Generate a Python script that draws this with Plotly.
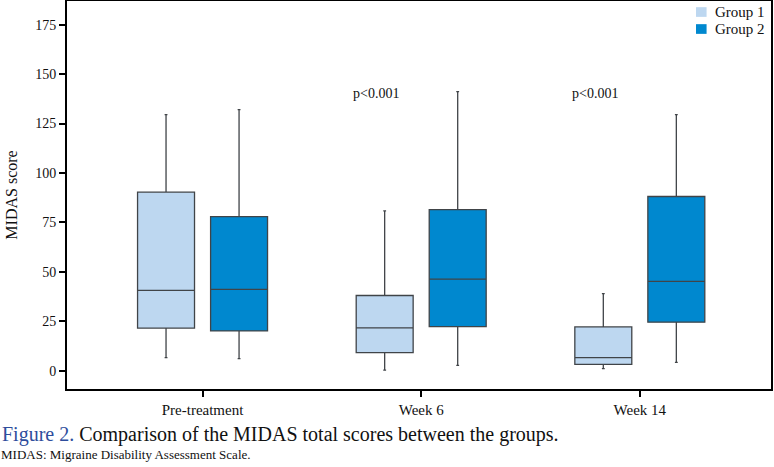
import plotly.graph_objects as go

categories = ["Pre-treatment", "Week 6", "Week 14"]
groups = ["Group 1", "Group 2"]

g1_lower = [6.6, 0.2, 1.0]
g1_q1 = [21.5, 9.1, 3.2]
g1_median = [40.6, 21.6, 6.6]
g1_q3 = [90.3, 38.0, 22.1]
g1_upper = [129.5, 80.8, 39.0]

g2_lower = [6.1, 2.7, 4.2]
g2_q1 = [20.1, 22.3, 24.5]
g2_median = [41.1, 46.3, 45.1]
g2_q3 = [77.9, 81.5, 88.1]
g2_upper = [132.0, 141.2, 129.5]

p_labels = ["", "p<0.001", "p<0.001"]
p_y = 140

y_ticks = [0, 25, 50, 75, 100, 125, 150, 175]

c1 = "#bdd7f0"
c2 = "#0088cf"
colors = [c1, c2]
font_family = "Liberation Serif"

fig = go.Figure()
for name, col, lo, q1, med, q3, up in [
    (groups[0], c1, g1_lower, g1_q1, g1_median, g1_q3, g1_upper),
    (groups[1], c2, g2_lower, g2_q1, g2_median, g2_q3, g2_upper),
]:
    fig.add_trace(go.Box(
        x=categories, lowerfence=lo, q1=q1, median=med, q3=q3, upperfence=up,
        name=name, fillcolor=col, line=dict(color="#404448", width=1.3),
        whiskerwidth=0.05, showlegend=False, boxpoints=False, hoverinfo="skip",
    ))

# legend (compact, drawn in paper coordinates)
leg_rows_y = [0.9716, 0.9278]
for name, col, yc in zip(groups, colors, leg_rows_y):
    fig.add_shape(type="rect", xref="paper", yref="paper",
                  x0=0.8935, x1=0.9085, y0=yc - 0.0125, y1=yc + 0.0125,
                  fillcolor=col, line=dict(width=0))
    fig.add_annotation(xref="paper", yref="paper", x=0.918, y=yc,
                       xanchor="left", yanchor="middle", showarrow=False,
                       text=name, font=dict(size=15, color="#111"))

for cat, lab in zip(categories, p_labels):
    if lab:
        fig.add_annotation(x=cat, y=p_y, text=lab, showarrow=False,
                           xshift=-45, font=dict(size=14, color="#111"))

fig.add_annotation(xref="paper", yref="paper", x=-0.0955, y=-0.116,
                   xanchor="left", yanchor="middle", showarrow=False,
                   text="<span style='color:#2e4d9c'>Figure 2.</span> Comparison of the MIDAS total scores between the groups.",
                   font=dict(size=20, color="#111"))
fig.add_annotation(xref="paper", yref="paper", x=-0.097, y=-0.168,
                   xanchor="left", yanchor="middle", showarrow=False,
                   text="MIDAS: Migraine Disability Assessment Scale.",
                   font=dict(size=13, color="#111"))

fig.update_layout(
    width=774, height=467,
    margin=dict(l=67, r=3, t=1, b=78, autoexpand=False),
    paper_bgcolor="white", plot_bgcolor="white",
    boxmode="group", boxgap=0.332, boxgroupgap=0.22,
    showlegend=False,
    font=dict(family=font_family, size=14, color="#111"),
    xaxis=dict(type="category", range=[-0.62, 2.6], showline=True,
               linecolor="black", linewidth=2, mirror=True, automargin=False,
               ticks="outside", ticklen=6, tickwidth=2, tickcolor="black",
               showgrid=False, tickfont=dict(size=15)),
    yaxis=dict(range=[-9.3, 187], showline=True, linecolor="black",
               linewidth=2, mirror=True, ticks="outside", ticklen=6,
               tickwidth=2, tickcolor="black", showgrid=False, automargin=False,
               zeroline=False, tickvals=y_ticks, tickfont=dict(size=14),
               title=dict(text="MIDAS score", font=dict(size=16), standoff=14)),
)

fig.write_html("out.html", config={"displayModeBar": False},
               post_script="document.body.style.margin='0';document.body.style.overflow='hidden';")
